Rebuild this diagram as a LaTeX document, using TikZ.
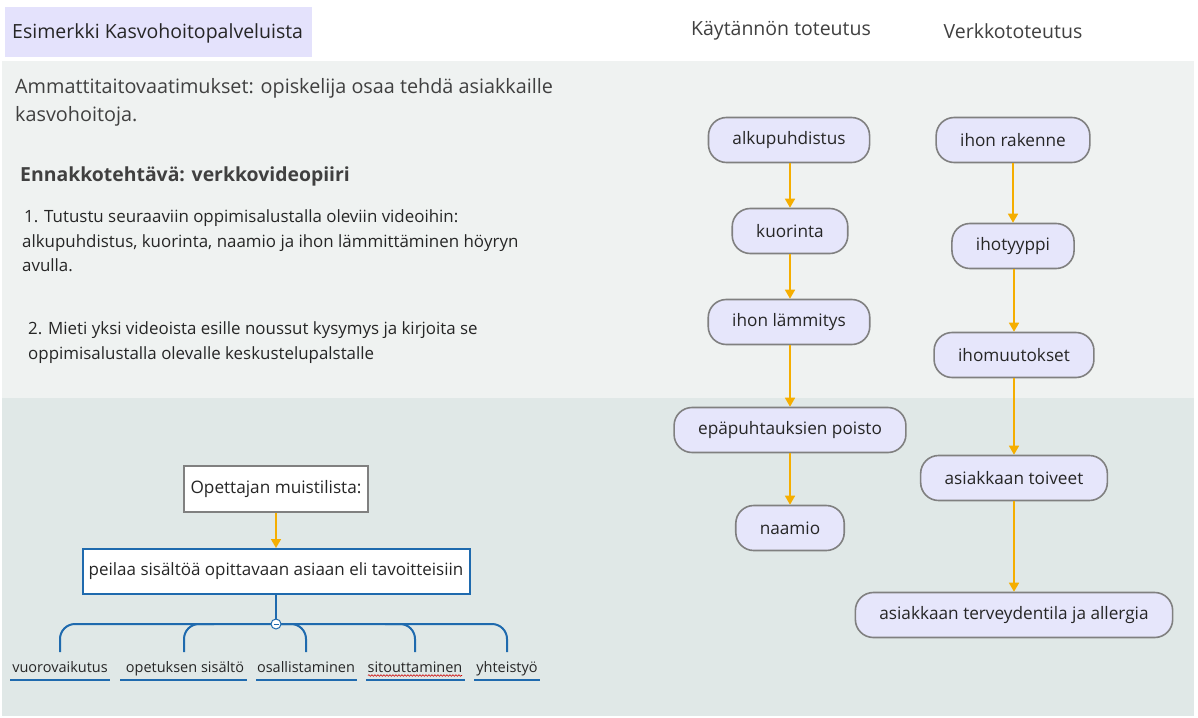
\documentclass[tikz,border=0pt]{standalone}
\usepackage{fontspec}
\setmainfont{Open Sans}
\usetikzlibrary{arrows.meta,decorations.pathmorphing}
\definecolor{panelA}{HTML}{EFF2F1}
\definecolor{panelB}{HTML}{E0E8E7}
\definecolor{titlefill}{HTML}{E4E2FC}
\definecolor{boxfill}{HTML}{E6E6FB}
\definecolor{boxline}{HTML}{808080}
\definecolor{arrowc}{HTML}{F5AE00}
\definecolor{bluec}{HTML}{1F6AAE}
\definecolor{txt}{HTML}{404040}
\definecolor{dtxt}{HTML}{262626}
\tikzset{
  flowbox/.style={draw=boxline, line width=1.6pt, fill=boxfill, rounded corners=18pt,
    minimum height=45pt, inner xsep=24pt, text=dtxt, font=\fontsize{17.2}{20}\selectfont},
  flowarrow/.style={draw=arrowc, line width=1.6pt, -{Triangle[width=10pt,length=9pt]}},
  plain/.style={text=txt, inner sep=0pt, anchor=base west},
  branch/.style={draw=bluec, line width=2pt, rounded corners=15pt},
  leaf/.style={text=dtxt, inner sep=0pt, anchor=base, font=\fontsize{14.5}{17}\selectfont},
  uline/.style={draw=bluec, line width=2pt}
}
\begin{document}
\begin{tikzpicture}[x=1pt,y=-1pt]
\useasboundingbox (0,0) rectangle (1198,717);
\fill[white] (0,0) rectangle (1198,717);
\fill[panelA] (2,61) rectangle (1194,398);
\fill[panelB] (2,398) rectangle (1194,716);
% title
\fill[titlefill] (5,7) rectangle (312,57);
\node[plain, text=dtxt, font=\fontsize{19.5}{22}\selectfont] (title) at (12,39) {Esimerkki Kasvohoitopalveluista};
\node[plain, font=\fontsize{19.5}{22}\selectfont, anchor=base] (h1) at (781,36) {Käytännön toteutus};
\node[plain, font=\fontsize{19.5}{22}\selectfont, anchor=base] (h2) at (1013,38) {Verkkototeutus};
% upper texts
\node[plain, font=\fontsize{19.8}{22}\selectfont] (t1) at (15,93) {Ammattitaitovaatimukset: opiskelija osaa tehdä asiakkaille};
\node[plain, font=\fontsize{19.8}{22}\selectfont] (t2) at (15,121) {kasvohoitoja.};
\node[plain, font=\bfseries\fontsize{19.4}{22}\selectfont] (t3) at (20,181) {Ennakkotehtävä: verkkovideopiiri};
\node[plain, text=dtxt, font=\fontsize{16.9}{19}\selectfont] (t4) at (24,222) {1. Tutustu seuraaviin oppimisalustalla oleviin videoihin:};
\node[plain, text=dtxt, font=\fontsize{16.9}{19}\selectfont] (t5) at (22,247) {alkupuhdistus, kuorinta, naamio ja ihon lämmittäminen höyryn};
\node[plain, text=dtxt, font=\fontsize{16.9}{19}\selectfont] (t6) at (22,271) {avulla.};
\node[plain, text=dtxt, font=\fontsize{16.9}{19}\selectfont] (t7) at (28,334) {2. Mieti yksi videoista esille noussut kysymys ja kirjoita se};
\node[plain, text=dtxt, font=\fontsize{16.9}{19}\selectfont] (t8) at (28,359) {oppimisalustalla olevalle keskustelupalstalle};
% left flow
\node[draw=boxline, line width=2pt, fill=white, text=dtxt, minimum width=184pt, minimum height=46pt,
  font=\fontsize{17.2}{20}\selectfont] (muisti) at (276,489) {Opettajan muistilista:};
\node[draw=bluec, line width=2pt, fill=white, text=dtxt, minimum width=387pt, minimum height=45pt,
  font=\fontsize{17}{20}\selectfont] (peilaa) at (276,571.5) {peilaa sisältöä opittavaan asiaan eli tavoitteisiin};
\coordinate (hub) at (276,624);
\draw[flowarrow] (muisti.south -| hub) -- (peilaa.north -| hub);
\draw[draw=bluec, line width=2pt] (peilaa.south -| hub) -- (hub);
% branches
\coordinate (b1) at (60,652);
\coordinate (b2) at (184,652);
\coordinate (b3) at (306,652);
\coordinate (b4) at (415,652);
\coordinate (b5) at (507,652);
\draw[branch] (b1) -- (b1 |- hub) -- (b5 |- hub) -- (b5);
\draw[branch] (b2) -- (b2 |- hub) -- ([xshift=30pt]b2 |- hub);
\draw[branch] (b3) -- (b3 |- hub) -- ([xshift=-30pt]b3 |- hub);
\draw[branch] (b4) -- (b4 |- hub) -- ([xshift=-30pt]b4 |- hub);
\node[circle, draw=bluec, line width=1pt, fill=white, minimum size=10pt, inner sep=0pt] (minus) at (hub) {};
\draw[bluec, line width=1pt] ([xshift=-2.5pt]minus.center) -- ([xshift=2.5pt]minus.center);
% leaves
\node[leaf] (l1) at (60,672) {vuorovaikutus};
\node[leaf] (l2) at (185,672) {opetuksen sisältö};
\node[leaf] (l3) at (306,672) {osallistaminen};
\node[leaf] (l4) at (415,672) {sitouttaminen};
\node[leaf] (l5) at (507,672) {yhteistyö};
\draw[uline] (10,680) -- (110,680);
\draw[uline] (120,680) -- (247,680);
\draw[uline] (256,680) -- (357,680);
\draw[uline] (366,680) -- (465,680);
\draw[uline] (474,680) -- (540,680);
\draw[red!80!black, line width=0.6pt, decorate, decoration={snake, amplitude=0.8pt, segment length=3pt}] (368,675.5) -- (462,675.5);
% practical column
\node[flowbox] (a1) at (789,140) {alkupuhdistus};
\node[flowbox] (a2) at (790,231) {kuorinta};
\node[flowbox] (a3) at (789,322) {ihon lämmitys};
\node[flowbox] (a4) at (790,430) {epäpuhtauksien poisto};
\node[flowbox] (a5) at (790,528) {naamio};
\draw[flowarrow] (a1.south -| a2) -- (a2);
\draw[flowarrow] (a2) -- (a2 |- a3.north);
\draw[flowarrow] (a3.south -| a2) -- (a2 |- a4.north);
\draw[flowarrow] (a4) -- (a5);
% online column
\node[flowbox] (v1) at (1013,140) {ihon rakenne};
\node[flowbox] (v2) at (1013,246) {ihotyyppi};
\node[flowbox] (v3) at (1014,355) {ihomuutokset};
\node[flowbox] (v4) at (1014,478) {asiakkaan toiveet};
\node[flowbox] (v5) at (1014,615) {asiakkaan terveydentila ja allergia};
\draw[flowarrow] (v1) -- (v2);
\draw[flowarrow] (v2.south -| v3) -- (v3);
\draw[flowarrow] (v3) -- (v4);
\draw[flowarrow] (v4) -- (v5);
\end{tikzpicture}
\end{document}
